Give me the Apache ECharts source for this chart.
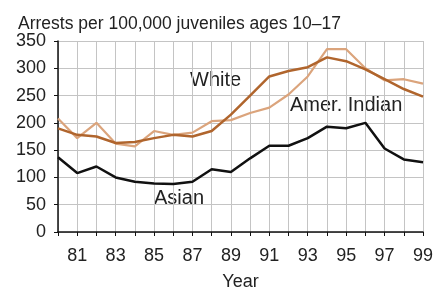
<!DOCTYPE html>
<html>
<head>
<meta charset="utf-8">
<script src="https://cdn.jsdelivr.net/npm/echarts@6/dist/echarts.min.js"></script>
<style>
  html, body { margin: 0; padding: 0; background: #fff; }
  #chart { width: 446px; height: 289px; }
</style>
</head>
<body>
<div id="chart"></div>
<script>
const years = [1980, 1981, 1982, 1983, 1984, 1985, 1986, 1987, 1988, 1989,
  1990, 1991, 1992, 1993, 1994, 1995, 1996, 1997, 1998, 1999];
const white = [190, 178, 175, 163, 165, 172, 178, 175, 185, 215,
  250, 285, 295, 302, 320, 313, 298, 280, 262, 248];
const amerIndian = [208, 172, 200, 162, 157, 185, 178, 182, 203, 205,
  218, 228, 252, 285, 335, 335, 300, 278, 280, 272];
const asian = [137, 108, 120, 100, 92, 89, 88, 92, 115, 110,
  135, 158, 158, 172, 193, 190, 200, 153, 133, 128];

const chart = echarts.init(document.getElementById('chart'));

const pairs = arr => years.map((y, i) => [y, arr[i]]);
const font = 'Liberation Sans, Arial, sans-serif';

const option = {
  animation: false,
  title: {
    text: 'Arrests per 100,000 juveniles ages 10–17',
    left: 13,
    top: 10,
    textStyle: { fontFamily: font, fontSize: 17.5, fontWeight: 'normal', color: '#222' }
  },
  grid: { left: 58, right: 23, top: 41, bottom: 57, containLabel: false, outerBoundsMode: 'none' },
  xAxis: {
    type: 'value',
    min: 1980,
    max: 1999,
    interval: 1,
    name: 'Year',
    nameLocation: 'middle',
    nameGap: 41,
    nameTextStyle: { fontFamily: font, fontSize: 18, color: '#222' },
    axisLine: { lineStyle: { color: '#111', width: 1.5 } },
    axisTick: { show: true, length: 4, lineStyle: { color: '#111' } },
    axisLabel: {
      fontFamily: font, fontSize: 18, color: '#222', margin: 15,
      formatter: v => (v % 2 === 1 ? String(v).slice(2) : '')
    },
    splitLine: { show: true, lineStyle: { color: '#c4c4c4', width: 1 } }
  },
  yAxis: {
    type: 'value',
    min: 0,
    max: 350,
    interval: 50,
    axisLine: { show: true, lineStyle: { color: '#111', width: 1.5 } },
    axisTick: { show: true, length: 4, lineStyle: { color: '#111' } },
    axisLabel: { fontFamily: font, fontSize: 18, color: '#222', margin: 12 },
    splitLine: { show: true, lineStyle: { color: '#c4c4c4', width: 1 } }
  },
  graphic: [
    { type: 'text', left: 190, top: 70, style: { text: 'White', fontFamily: font, fontSize: 20, fill: '#222' } },
    { type: 'text', left: 290, top: 95, style: { text: 'Amer. Indian', fontFamily: font, fontSize: 20, fill: '#222' } },
    { type: 'text', left: 154, top: 188, style: { text: 'Asian', fontFamily: font, fontSize: 20, fill: '#222' } }
  ],
  series: [
    {
      name: 'Amer. Indian', type: 'line', data: pairs(amerIndian),
      showSymbol: false,
      lineStyle: { color: '#dba47c', width: 2.2 }
    },
    {
      name: 'White', type: 'line', data: pairs(white),
      showSymbol: false,
      lineStyle: { color: '#b0652d', width: 2.5 }
    },
    {
      name: 'Asian', type: 'line', data: pairs(asian),
      showSymbol: false,
      lineStyle: { color: '#111', width: 2.5 }
    }
  ]
};

chart.setOption(option);
</script>
</body>
</html>
